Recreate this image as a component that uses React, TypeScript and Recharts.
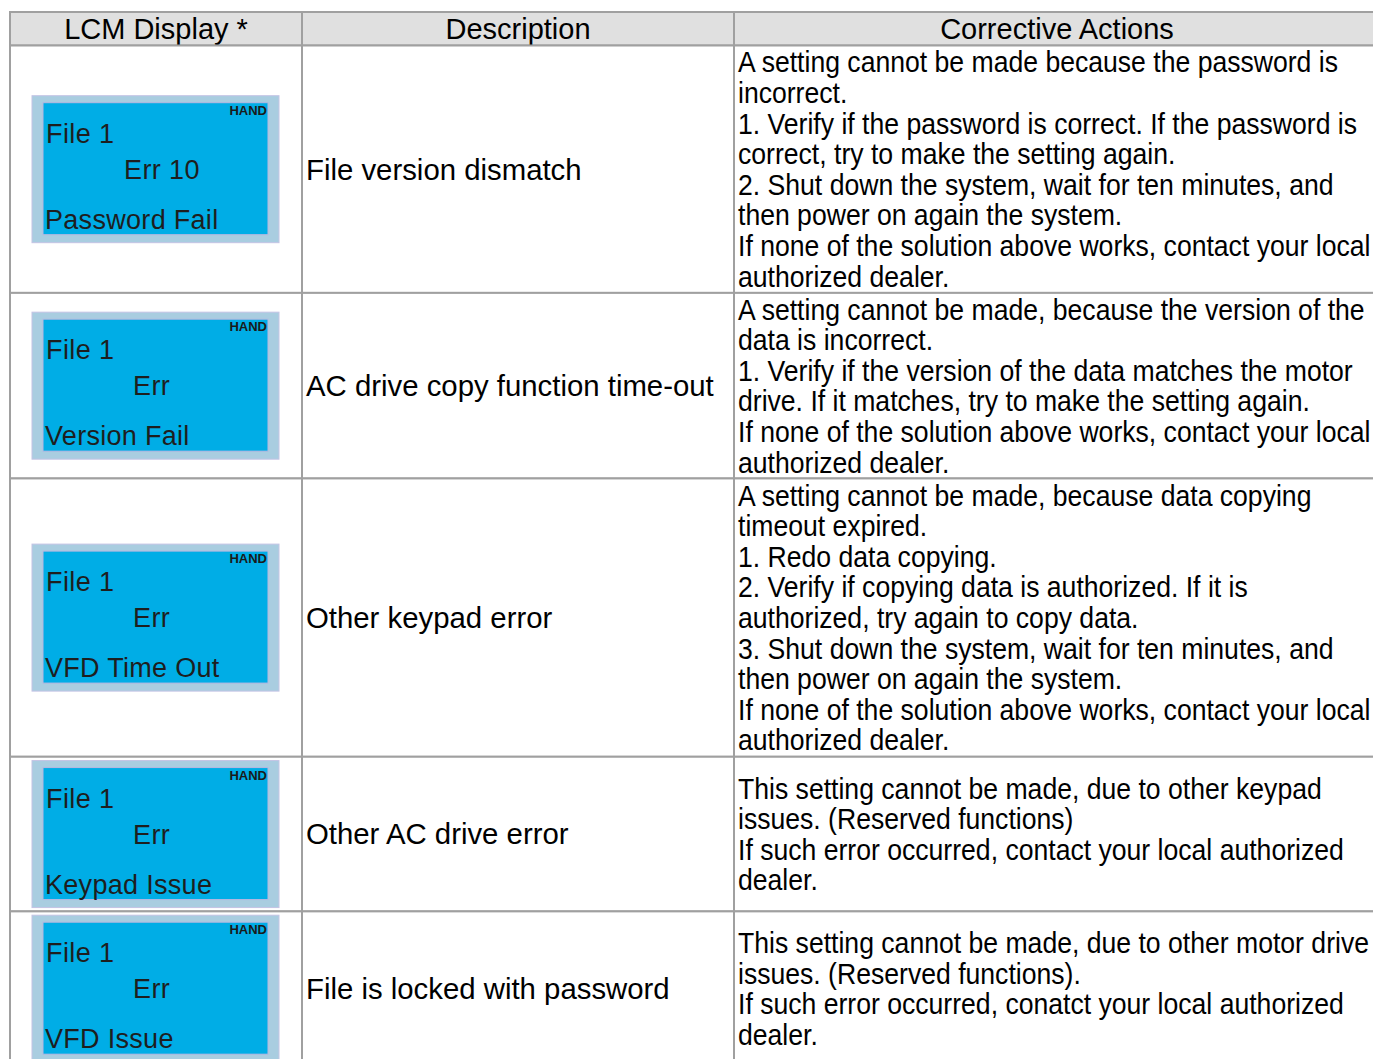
import { Bar, BarChart, XAxis, YAxis } from "recharts";

// column headers
const headers = ["LCM Display *", "Description", "Corrective Actions"];

// height of each table row, counted in text lines
const rowLines = [8, 6, 9, 5, 5];

// LCM panel texts
const lcdTitle = ["File 1", "File 1", "File 1", "File 1", "File 1"];
const lcdCode = ["Err 10", "Err", "Err", "Err", "Err"];
const lcdMessage = ["Password Fail", "Version Fail", "VFD Time Out", "Keypad Issue", "VFD Issue"];

const descriptions = [
  "File version dismatch",
  "AC drive copy function time-out",
  "Other keypad error",
  "Other AC drive error",
  "File is locked with password"
];

const actions: string[][] = [
  [
    "A setting cannot be made because the password is",
    "incorrect.",
    "1. Verify if the password is correct. If the password is",
    "correct, try to make the setting again.",
    "2. Shut down the system, wait for ten minutes, and",
    "then power on again the system.",
    "If none of the solution above works, contact your local",
    "authorized dealer."
  ],
  [
    "A setting cannot be made, because the version of the",
    "data is incorrect.",
    "1. Verify if the version of the data matches the motor",
    "drive. If it matches, try to make the setting again.",
    "If none of the solution above works, contact your local",
    "authorized dealer."
  ],
  [
    "A setting cannot be made, because data copying",
    "timeout expired.",
    "1. Redo data copying.",
    "2. Verify if copying data is authorized. If it is",
    "authorized, try again to copy data.",
    "3. Shut down the system, wait for ten minutes, and",
    "then power on again the system.",
    "If none of the solution above works, contact your local",
    "authorized dealer."
  ],
  [
    "This setting cannot be made, due to other keypad",
    "issues. (Reserved functions)",
    "If such error occurred, contact your local authorized",
    "dealer."
  ],
  [
    "This setting cannot be made, due to other motor drive",
    "issues. (Reserved functions).",
    "If such error occurred, conatct your local authorized",
    "dealer."
  ]
];

const chartData = [
  rowLines.reduce<Record<string, number | string>>(
    (acc, v, i) => ({ ...acc, [`r${i}`]: v }),
    { name: "table" }
  )
];
const totalLines = rowLines.reduce((a, b) => a + b, 0);

const FONT = "'Liberation Sans', Arial, Helvetica, sans-serif";
const BORDER = "#a0a0a0";
const COL1 = 292;
const COL2 = 724;
const TABLE_TOP = 12;
const LINE = 30.6;

function TableRow(props: any) {
  const { x, y, width, height, row } = props;
  const top = Math.min(y, y + height);
  const h = Math.abs(height);
  const mid = top + h / 2;
  const lines = actions[row];
  const firstBase = mid - ((lines.length - 1) / 2) * LINE + 10.4;
  const lcdTop = mid - 73.5;
  const code = lcdCode[row];

  return (
    <g fontFamily={FONT}>
      {row === 0 && (
        <g>
          <rect x={x} y={TABLE_TOP} width={width} height={top - TABLE_TOP} fill="#e0e0e0" stroke={BORDER} strokeWidth={2} />
          <line x1={x + COL1} x2={x + COL1} y1={TABLE_TOP} y2={top} stroke={BORDER} strokeWidth={2} />
          <line x1={x + COL2} x2={x + COL2} y1={TABLE_TOP} y2={top} stroke={BORDER} strokeWidth={2} />
          {headers.map((label, i) => {
            const edges = [x, x + COL1, x + COL2, x + width];
            return (
              <text
                key={label}
                x={(edges[i] + edges[i + 1]) / 2}
                y={(TABLE_TOP + top) / 2 + 10.4}
                textAnchor="middle"
                fontSize={29}
                fill="#000"
              >
                {label}
              </text>
            );
          })}
        </g>
      )}
      <rect x={x} y={top} width={width} height={h} fill="#fff" stroke={BORDER} strokeWidth={2} />
      <line x1={x + COL1} x2={x + COL1} y1={top} y2={top + h} stroke={BORDER} strokeWidth={2} />
      <line x1={x + COL2} x2={x + COL2} y1={top} y2={top + h} stroke={BORDER} strokeWidth={2} />

      {/* LCM panel */}
      <rect x={x + 22} y={lcdTop} width={247} height={147} fill="#a9cde0" stroke="#c4c4e4" strokeWidth={1} />
      <rect x={x + 33} y={lcdTop + 7} width={225} height={132} fill="#00ade6" stroke="#b8b8e0" strokeWidth={1} />
      <text x={x + 257} y={lcdTop + 19} textAnchor="end" fontSize={13} fontWeight="bold" fill="#1a1a1a">
        HAND
      </text>
      <text x={x + 36} y={lcdTop + 47} fontSize={27} letterSpacing={0.4} fill="#1e1e1e">
        {lcdTitle[row]}
      </text>
      <text x={x + (code === "Err" ? 123 : 114)} y={lcdTop + 83} fontSize={27} letterSpacing={0.4} fill="#1e1e1e">
        {code}
      </text>
      <text x={x + 35} y={lcdTop + 133} fontSize={27} letterSpacing={0.3} fill="#1e1e1e">
        {lcdMessage[row]}
      </text>

      {/* description */}
      <text x={x + COL1 + 4} y={mid + 10.4} fontSize={29.35} fill="#000">
        {descriptions[row]}
      </text>

      {/* corrective actions */}
      <g transform={`translate(${x + COL2 + 4}, 0) scale(0.917, 1)`}>
        {lines.map((line, i) => (
          <text key={i} x={0} y={firstBase + i * LINE} fontSize={29} fill="#000">
            {line}
          </text>
        ))}
      </g>
    </g>
  );
}

export default function App() {
  return (
    <div
      style={{
        position: "absolute",
        left: 0,
        top: 0,
        width: 1373,
        height: 1059,
        overflow: "hidden",
        background: "#fff"
      }}
    >
      <BarChart
        width={1380}
        height={1066}
        data={chartData}
        margin={{ top: 45.5, right: 0, bottom: 0, left: 10 }}
        barCategoryGap={0}
        barGap={0}
      >
        <XAxis dataKey="name" type="category" hide />
        <YAxis type="number" domain={[0, totalLines]} reversed hide />
        {rowLines.map((_, i) => (
          <Bar
            key={i}
            dataKey={`r${i}`}
            stackId="rows"
            isAnimationActive={false}
            shape={(p: any) => <TableRow {...p} row={i} />}
          />
        ))}
      </BarChart>
    </div>
  );
}
